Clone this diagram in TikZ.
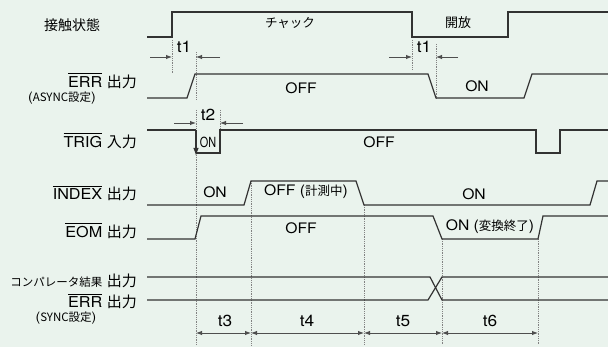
\documentclass[tikz,border=0pt]{standalone}
\usepackage{fontspec}
\setmainfont{TeX Gyre Heros}[FakeStretch=1.08]
\newfontfamily\jp{Noto Sans CJK JP}
\usetikzlibrary{arrows.meta}
\definecolor{bg}{RGB}{234,243,237}
\definecolor{wave}{RGB}{50,50,50}
\definecolor{guide}{RGB}{130,130,130}
\newcommand{\olbar}[1]{\leavevmode\setbox0\hbox{#1}\rlap{\rule[\dimexpr\ht0+2pt\relax]{\wd0}{0.8pt}}\box0\relax}

\begin{document}
\begin{tikzpicture}[x=1pt, y=-1pt,
		sig/.style={draw=wave, line width=1.2pt},
		dots/.style={draw=guide, densely dotted, line width=0.8pt},
		span/.style={draw=guide!60!black, line width=0.9pt, {Latex[length=6pt,width=4.5pt]}-{Latex[length=6pt,width=4.5pt]}},
		half/.style={draw=guide!60!black, line width=0.9pt, -{Latex[length=6pt,width=4.5pt]}},
		lbl/.style={font=\fontsize{15}{15}\selectfont, anchor=east, inner sep=0pt},
		sub/.style={font=\fontsize{13}{13}\selectfont, inner sep=0pt},
		val/.style={font=\fontsize{14.5}{15}\selectfont, inner sep=0pt},
		tval/.style={font=\fontsize{16}{16}\selectfont, inner sep=0pt}]
				\useasboundingbox (0,0) rectangle (608,347);
				\fill[bg] (0,0) rectangle (608,347);

				% 点線
				\draw[dots] (172,40) -- (172,73);
				\draw[dots] (196,52) -- (196,99);
				\draw[dots] (412,40) -- (412,70);
				\draw[dots] (436,44) -- (436,99);
				\draw[dots] (196,110) -- (196,345);
				\draw[dots] (220,110) -- (220,135);
				\draw[dots] (251,181) -- (251,345);
				\draw[dots] (364,205) -- (364,345);
				\draw[dots] (442,239) -- (442,345);
				\draw[dots] (538,239) -- (538,345);

				% 波形を描く
				\draw[sig] (147,37) -- (172,37) -- (172,12) -- (412,12) -- (412,37) -- (508,37) -- (508,12) -- (608,12);
				\draw[sig] (147,98) -- (187,98) -- (195,74) -- (428,74) -- (436,98) -- (524,98) -- (532,74) -- (608,74);
				\draw[sig] (147,130) -- (196,130);
				\draw[sig] (196,153) -- (220,153) -- (220,130) -- (536,130) -- (536,153) -- (560,153) -- (560,130) -- (608,130);
				\draw[sig, -{Latex[length=8pt,width=5.5pt]}] (196,130) -- (196,156);
				\draw[sig] (147,205) -- (244,205) -- (251,181) -- (356,181) -- (364,205) -- (590,205) -- (597,181) -- (608,181);
				\draw[sig] (147,239) -- (195,239) -- (201,216) -- (433,216) -- (442,239) -- (538,239) -- (543,216) -- (608,216);
				\draw[sig] (147,277) -- (430,277) -- (442,300) -- (608,300);
				\draw[sig] (147,300) -- (428,300) -- (442,277) -- (608,277);

				% 時間の矢印
				\coordinate (a1) at (150,57);
				\coordinate (b1) at (172,57);
				\coordinate (c1) at (196,57);
				\coordinate (d1) at (220,57);
				\coordinate (a2) at (389,57);
				\coordinate (b2) at (412,57);
				\coordinate (c2) at (436,57);
				\coordinate (d2) at (458,57);
				\coordinate (a3) at (174,123);
				\coordinate (b3) at (196,123);
				\coordinate (c3) at (220,123);
				\coordinate (d3) at (243,123);
				\draw[half] (a1) -- (b1);
				\draw[half] (d1) -- (c1);
				\draw[half] (a2) -- (b2);
				\draw[half] (d2) -- (c2);
				\draw[half] (a3) -- (b3);
				\draw[half] (d3) -- (c3);

				\coordinate (m1) at (196,333);
				\coordinate (m2) at (251,333);
				\coordinate (m3) at (364,333);
				\coordinate (m4) at (442,333);
				\coordinate (m5) at (538,333);
				\draw[span] (m1) -- (m2);
				\draw[span] (m2) -- (m3);
				\draw[span] (m3) -- (m4);
				\draw[span] (m4) -- (m5);

				% 名前を入れる
				\node[lbl, anchor=center] (contact) at (72,25) {\jp\fontsize{14}{14}\selectfont 接触状態};
				\node[lbl] (erra) at (137,81) {\olbar{ERR}\ {\jp 出力}};
				\node[sub] (async) at (62,98) {({\jp\fontsize{11.5}{12}\selectfont ASYNC設定})};
				\node[lbl] (trig) at (137,141) {\olbar{TRIG}\ {\jp 入力}};
				\node[lbl] (index) at (137,193) {\olbar{INDEX}\ {\jp 出力}};
				\node[lbl] (eom) at (137,231) {\olbar{EOM}\ {\jp 出力}};
				\node[lbl] (comp) at (137,281) {{\jp\fontsize{11.5}{12}\selectfont コンパレータ結果}\ {\jp 出力}};
				\node[lbl] (errs) at (137,301) {\olbar{ERR}\ {\jp 出力}};
				\node[sub] (sync) at (66,318) {({\jp\fontsize{11.5}{12}\selectfont SYNC設定})};

				% 値を入れる
				\node[val] (chuck) at (290,23) {\jp\fontsize{12.5}{13}\selectfont チャック};
				\node[val] (open) at (458,23) {\jp\fontsize{13}{13}\selectfont 開放};
				\node[tval] (t1a) at (184,47) {t1};
				\node[tval] (t1b) at (424,47) {t1};
				\node[val] (erroff) at (301,88) {OFF};
				\node[val] (erron) at (477,86) {ON};
				\node[tval] (t2) at (208,115) {t2};
				\node[font=\fontsize{14}{14}\selectfont, inner sep=0pt, xscale=0.72] (trigon) at (208,142) {ON};
				\node[val] (trigoff) at (379,142) {OFF};
				\node[val] (idxon) at (215,192) {ON};
				\node[val] (idxoff) at (306,192) {OFF\ ({\jp\fontsize{12.5}{13}\selectfont 計測中})};
				\node[val] (idxon2) at (474,194) {ON};
				\node[val] (eomoff) at (301,228) {OFF};
				\node[val] (eomon) at (490,227) {ON\ ({\jp\fontsize{12.5}{13}\selectfont 変換終了})};
				\node[tval] (t3) at (225,321) {t3};
				\node[tval] (t4) at (307,321) {t4};
				\node[tval] (t5) at (403,321) {t5};
				\node[tval] (t6) at (490,321) {t6};
			\end{tikzpicture}
\end{document}
